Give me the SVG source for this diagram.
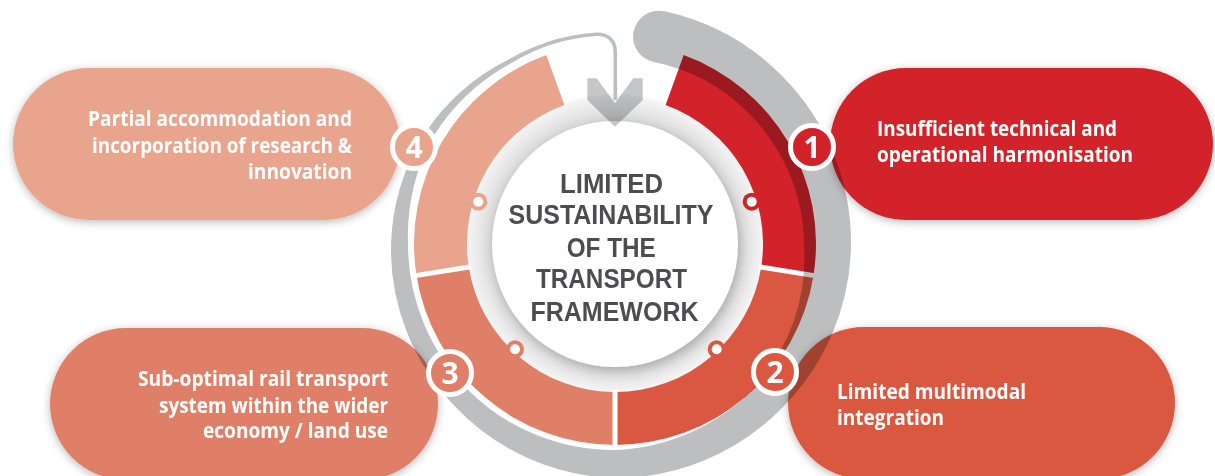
<svg xmlns="http://www.w3.org/2000/svg" width="1215" height="476" viewBox="0 0 1215 476">
<defs>
<style>
.pt{font-family:"Open Sans","Liberation Sans",sans-serif;font-weight:700;font-size:21px;fill:#fff}
.ct{font-family:"Liberation Sans","Open Sans",sans-serif;font-weight:700;font-size:27px;fill:#4d4d4f}
.bn{font-family:"Open Sans","Liberation Sans",sans-serif;font-weight:700;font-size:30px;fill:#fff;text-anchor:middle}
.badge{stroke:#fff;stroke-width:5}
.sep{stroke:#fff;stroke-width:5}
.gray{fill:#bcbec0;mix-blend-mode:multiply}
.c1{fill:#d2232a}.c2{fill:#da5841}.c3{fill:#e07f67}.c4{fill:#e9a48d}
</style>
<filter id="sh" x="-10%" y="-20%" width="120%" height="140%"><feDropShadow dx="0" dy="2" stdDeviation="4" flood-color="#000" flood-opacity="0.28"/></filter>
<filter id="dsh" x="-20%" y="-20%" width="140%" height="140%"><feDropShadow dx="2" dy="4" stdDeviation="6" flood-color="#000" flood-opacity="0.22"/></filter>
<radialGradient id="ann" gradientUnits="userSpaceOnUse" cx="615" cy="244" r="150"><stop offset="0.8" stop-color="#d6d6d6"/><stop offset="1" stop-color="#f7f7f7"/></radialGradient>
</defs>

<g id="ring">
<circle cx="615" cy="244" r="150" fill="url(#ann)"/>
<path class="c1" d="M683.7 55.1 A201 201 0 0 1 813.5 275.4 L761.2 267.1 A148 148 0 0 0 665.6 104.9 Z"/>
<path class="c2" d="M813.5 275.4 A201 201 0 0 1 615 445 L615 392 A148 148 0 0 0 761.2 267.1 Z"/>
<path class="c3" d="M615 445 A201 201 0 0 1 416.5 275.4 L468.8 267.1 A148 148 0 0 0 615 392 Z"/>
<path class="c4" d="M416.5 275.4 A201 201 0 0 1 546.3 55.1 L564.4 104.9 A148 148 0 0 0 468.8 267.1 Z"/>
<line class="sep" x1="759.2" y1="266.8" x2="817.5" y2="276.1"/>
<line class="sep" x1="615" y1="390" x2="615" y2="449"/>
<line class="sep" x1="470.8" y1="266.8" x2="412.5" y2="276.1"/>
</g>

<g id="node-1">
<rect class="c1" x="830" y="68" width="383" height="152" rx="76" filter="url(#sh)"/>
<text class="pt" x="877" y="136" textLength="240" lengthAdjust="spacingAndGlyphs">Insufficient technical and</text>
<text class="pt" x="877" y="162" textLength="256" lengthAdjust="spacingAndGlyphs">operational harmonisation</text>
</g>
<g id="node-2">
<rect class="c2" x="788" y="327" width="387" height="152" rx="76" filter="url(#sh)"/>
<text class="pt" x="837" y="399" textLength="189" lengthAdjust="spacingAndGlyphs">Limited multimodal</text>
<text class="pt" x="837" y="425" textLength="107" lengthAdjust="spacingAndGlyphs">integration</text>
</g>
<g id="node-3">
<rect class="c3" x="50" y="328" width="388" height="152" rx="76" filter="url(#sh)"/>
<text class="pt" x="138" y="386" textLength="250" lengthAdjust="spacingAndGlyphs">Sub-optimal rail transport</text>
<text class="pt" x="159" y="412.7" textLength="229" lengthAdjust="spacingAndGlyphs">system within the wider</text>
<text class="pt" x="203" y="438.3" textLength="185" lengthAdjust="spacingAndGlyphs">economy / land use</text>
</g>
<g id="node-4">
<rect class="c4" x="13" y="68" width="387" height="152" rx="76" filter="url(#sh)"/>
<text class="pt" x="88" y="126" textLength="264" lengthAdjust="spacingAndGlyphs">Partial accommodation and</text>
<text class="pt" x="92" y="152.7" textLength="260" lengthAdjust="spacingAndGlyphs">incorporation of research &amp;</text>
<text class="pt" x="248" y="179.3" textLength="104" lengthAdjust="spacingAndGlyphs">innovation</text>
</g>

<g id="connectors">
<path class="gray" d="M664.5 11.2 A237 237 0 0 1 782.6 76.4 A236 236 0 0 1 851 244 A235 235 0 0 1 780.5 409.5 A233 233 0 0 1 615 478 A230 230 0 0 1 453.8 405.2 A226 226 0 0 1 391 244 A221 221 0 0 1 424.5 134 A216 216 0 0 1 508.5 59.5 A213 213 0 0 1 559.9 38.3 L560.8 41.6 A209 209 0 0 0 510.7 63.4 A210 210 0 0 0 432.4 138 A210 210 0 0 0 408 244 A207 207 0 0 0 468.6 390.4 A206 206 0 0 0 615 450 A203 203 0 0 0 756.4 385.4 A195 195 0 0 0 804 244 A188 188 0 0 0 747.2 111.8 A186 186 0 0 0 653.7 62.1 A26 26 0 0 1 664.5 11.2 Z"/>
<path d="M553.2 42 A211 211 0 0 1 596.6 34.3 C607 33.8 615.3 40 615.3 52 L615.3 100" fill="none" stroke="#bcbec0" stroke-width="3.6"/>
</g>

<g id="center">
<circle cx="615" cy="244" r="123" fill="#fff" filter="url(#dsh)"/>
<text class="ct" x="560" y="192.7" textLength="103" lengthAdjust="spacingAndGlyphs">LIMITED</text>
<text class="ct" x="508.5" y="224.3" textLength="205" lengthAdjust="spacingAndGlyphs">SUSTAINABILITY</text>
<text class="ct" x="566.7" y="256.7" textLength="89" lengthAdjust="spacingAndGlyphs">OF THE</text>
<text class="ct" x="536" y="288.3" textLength="151" lengthAdjust="spacingAndGlyphs">TRANSPORT</text>
<text class="ct" x="530.5" y="320.7" textLength="168" lengthAdjust="spacingAndGlyphs">FRAMEWORK</text>
</g>

<polygon id="arrowhead" points="587.3,78.3 596.7,78.3 615,103.3 633.3,78.3 642.7,78.3 642.7,100 615,126.7 587.3,100" fill="#bcbec0" opacity="0.88" style="mix-blend-mode:multiply"/>

<g id="dots">
<circle class="c1" cx="751.7" cy="201.7" r="9"/><circle cx="751.7" cy="201.7" r="5" fill="#fff"/>
<circle class="c2" cx="716.7" cy="349.3" r="9"/><circle cx="716.7" cy="349.3" r="5" fill="#fff"/>
<circle class="c3" cx="515" cy="349.3" r="9"/><circle cx="515" cy="349.3" r="5" fill="#fff"/>
<circle class="c4" cx="478.3" cy="201.7" r="9"/><circle cx="478.3" cy="201.7" r="5" fill="#fff"/>
</g>

<g id="badge-1"><circle class="c1 badge" cx="812" cy="147" r="21.5"/><text class="bn" x="812" y="157.5">1</text></g>
<g id="badge-2"><circle class="c2 badge" cx="775" cy="372" r="21.5"/><text class="bn" x="775" y="382.5">2</text></g>
<g id="badge-3"><circle class="c3 badge" cx="450" cy="373" r="21.5"/><text class="bn" x="450" y="383.5">3</text></g>
<g id="badge-4"><circle class="c4 badge" cx="414" cy="147" r="21.5"/><text class="bn" x="414" y="157.5">4</text></g>
</svg>
